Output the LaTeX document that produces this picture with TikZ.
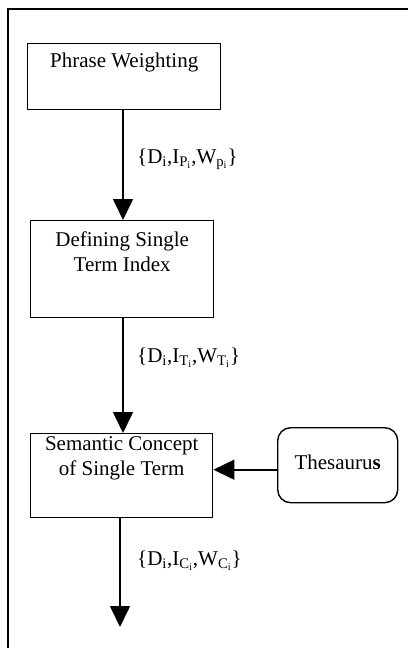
\documentclass[tikz,border=0pt]{standalone}
\usepackage{fontspec}
\setmainfont{Liberation Serif}
\usetikzlibrary{arrows.meta}
\newcommand\subtxt[1]{\textsubscript{#1}}
\begin{document}
\begin{tikzpicture}[x=1pt,y=-1pt,
  font=\fontsize{21}{25}\selectfont,
  box/.style={draw,line width=1.4pt,anchor=north west,inner sep=0pt},
  txt/.style={anchor=north,align=center,inner sep=0pt},
  flow/.style={line width=1.6pt,-{Triangle[width=20pt,length=21pt]}},
  lab/.style={anchor=west,inner sep=0pt}]
\useasboundingbox (0,0) rectangle (408,648);
% partial outer frame
\draw[line width=2pt] (8,648) -- (8,9) -- (408,9);
% process boxes
\node[box,minimum width=193pt,minimum height=66pt] (pw) at (27,43) {};
\node[txt] (pwt) at ([yshift=-10pt]pw.north) {Phrase Weighting};
\node[box,minimum width=183pt,minimum height=97pt] (dt) at (30,220) {};
\node[txt] (dtt) at ([yshift=-12pt]dt.north) {Defining Single\\Term Index};
\node[box,minimum width=182pt,minimum height=84pt] (sc) at (30,433) {};
\node[txt] (sct) at ([yshift=-3pt]sc.north) {Semantic Concept\\of Single Term};
\node[draw,line width=1.4pt,rounded corners=13pt,minimum width=120pt,minimum height=75pt,anchor=north west] (th) at (277,427) {};
\node[inner sep=0pt] (tht) at ([yshift=3pt]th.center) {Thesauru\textbf{s}};
% connectors
\coordinate (out) at (120,627);
\draw[flow] (pw.south -| 123,0) -- (dt.north -| 123,0);
\draw[flow] (dt.south -| 123,0) -- (sc.north -| 123,0);
\draw[flow] (sc.south -| out) -- (out);
\draw[flow] ([yshift=-4.5pt]th.west) -- ([yshift=-4.5pt]th.west -| sc.east);
% edge labels
\node[lab] (l1) at (137,159) {\{D\subtxt{i},I\subtxt{P\subtxt{i}},W\subtxt{p\subtxt{i}}\}};
\node[lab] (l2) at (137,358) {\{D\subtxt{i},I\subtxt{T\subtxt{i}},W\subtxt{T\subtxt{i}}\}};
\node[lab] (l3) at (137,561) {\{D\subtxt{i},I\subtxt{C\subtxt{i}},W\subtxt{C\subtxt{i}}\}};
\end{tikzpicture}
\end{document}
